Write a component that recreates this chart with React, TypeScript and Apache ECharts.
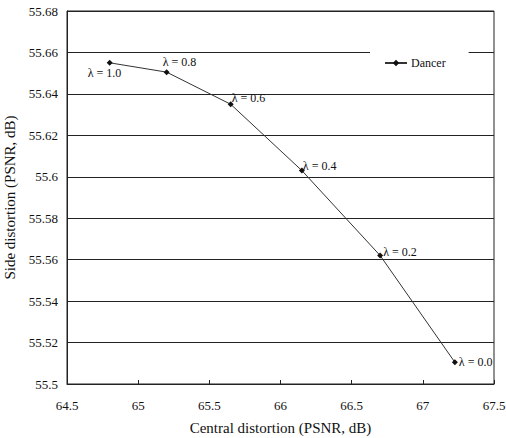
import React, { useEffect, useRef } from "react";
import * as echarts from "echarts";

const centralPSNR = [64.8, 65.2, 65.65, 66.15, 66.7, 67.225];
const sidePSNR = [55.655, 55.6505, 55.635, 55.603, 55.562, 55.5105];
const lambdaLabels = ["λ = 1.0", "λ = 0.8", "λ = 0.6", "λ = 0.4", "λ = 0.2", "λ = 0.0"];
const seriesName = "Dancer";
const xTitle = "Central distortion (PSNR, dB)";
const yTitle = "Side distortion (PSNR, dB)";

// label offsets (dx, dy) from the point, in pixels (styling only)
const labelOffsets: [number, number][] = [
  [-22, 10],
  [-4, -10],
  [1, -6],
  [1, -5],
  [3, -4],
  [4, 0],
];

export default function App() {
  const ref = useRef<HTMLDivElement>(null);
  useEffect(() => {
    if (!ref.current) return;
    const chart = echarts.init(ref.current, undefined, { renderer: "svg" });
    const font = "'Liberation Serif', 'Times New Roman', serif";
    const symbolSize = 6;
    const data = centralPSNR.map((x, i) => ({
      value: [x, sidePSNR[i]],
      label: {
        show: true,
        formatter: lambdaLabels[i],
        position: [labelOffsets[i][0] + symbolSize / 2, labelOffsets[i][1] + symbolSize / 2],
        align: "left",
        verticalAlign: "middle",
        fontFamily: font,
        fontSize: 12,
        color: "#111",
      },
    }));
    chart.setOption({
      animation: false,
      backgroundColor: "#fff",
      textStyle: { fontFamily: font },
      grid: {
        left: 67,
        right: 12,
        top: 11,
        bottom: 54,
        outerBoundsMode: "none",
        containLabel: false,
        show: true,
        borderColor: "#222",
        borderWidth: 1,
        backgroundColor: "transparent",
      },
      legend: {
        show: true,
        data: [seriesName],
        left: 370,
        top: 47,
        padding: [10, 23, 10, 14],
        backgroundColor: "#fff",
        itemWidth: 22,
        itemHeight: 8,
        itemGap: 5,
        textStyle: { fontFamily: font, fontSize: 12, color: "#111", padding: [0, 0, 0, -1] },
      },
      xAxis: {
        type: "value",
        min: 64.5,
        max: 67.5,
        interval: 0.5,
        name: xTitle,
        nameLocation: "middle",
        nameGap: 36,
        nameTextStyle: { fontFamily: font, fontSize: 15, color: "#111" },
        axisLine: { lineStyle: { color: "#222", width: 1 } },
        axisTick: { show: true, inside: true, length: 4, lineStyle: { color: "#222" } },
        axisLabel: { fontFamily: font, fontSize: 13, color: "#111", margin: 15 },
        splitLine: { show: false },
      },
      yAxis: {
        type: "value",
        min: 55.5,
        max: 55.68,
        interval: 0.02,
        name: yTitle,
        nameLocation: "middle",
        nameGap: 49,
        nameTextStyle: { fontFamily: font, fontSize: 15, color: "#111" },
        axisLine: { lineStyle: { color: "#222", width: 1 } },
        axisTick: { show: false },
        axisLabel: {
          fontFamily: font,
          fontSize: 13,
          color: "#111",
          margin: 9,
          formatter: (v: number) => String(parseFloat(v.toFixed(2))),
        },
        splitLine: { show: true, lineStyle: { color: "#222", width: 1 } },
      },
      series: [
        {
          name: seriesName,
          type: "line",
          data,
          symbol: "diamond",
          symbolSize,
          itemStyle: { color: "#111" },
          lineStyle: { color: "#333", width: 1 },
        },
      ],
    });
    return () => chart.dispose();
  }, []);
  return (
    <div
      ref={ref}
      style={{ position: "fixed", left: 0, top: 0, width: 506, height: 438 }}
    />
  );
}
